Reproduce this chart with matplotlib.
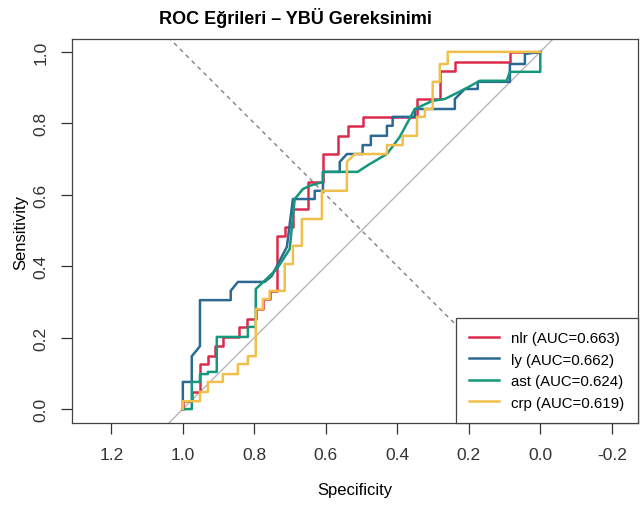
import matplotlib
matplotlib.use("Agg")
import matplotlib.pyplot as plt

plt.rcParams['font.family'] = ['Liberation Sans', 'DejaVu Sans']

# ROC koordinatları (specificity, sensitivity) - görselden okunan değerler
nlr_spec = [1.0, 1.0, 0.975, 0.975, 0.952, 0.952, 0.930, 0.930, 0.911, 0.911, 0.888, 0.888,
            0.843, 0.843, 0.821, 0.821, 0.796, 0.796, 0.776, 0.776, 0.757, 0.757, 0.737, 0.737,
            0.715, 0.715, 0.692, 0.692, 0.650, 0.650, 0.608, 0.608, 0.566, 0.566, 0.538, 0.538,
            0.497, 0.497, 0.345, 0.345, 0.281, 0.281, 0.239, 0.239, 0.085, 0.085, 0.0]
nlr_sens = [0.0, 0.022, 0.022, 0.048, 0.048, 0.126, 0.126, 0.148, 0.148, 0.176, 0.176, 0.202,
            0.202, 0.230, 0.230, 0.252, 0.252, 0.280, 0.280, 0.308, 0.308, 0.331, 0.331, 0.485,
            0.485, 0.510, 0.510, 0.560, 0.560, 0.636, 0.636, 0.714, 0.714, 0.765, 0.765, 0.793,
            0.793, 0.818, 0.818, 0.868, 0.868, 0.947, 0.947, 0.972, 0.972, 1.0, 1.0]

ly_spec = [1.0, 1.0, 0.975, 0.975, 0.952, 0.952, 0.866, 0.866, 0.846, 0.771, 0.751, 0.709,
           0.692, 0.631, 0.631, 0.608, 0.608, 0.561, 0.561, 0.541, 0.497, 0.497, 0.474, 0.474,
           0.429, 0.429, 0.413, 0.413, 0.351, 0.351, 0.239, 0.239, 0.211, 0.175, 0.175, 0.085,
           0.085, 0.043, 0.043, 0.0]
ly_sens = [0.0, 0.076, 0.076, 0.148, 0.176, 0.305, 0.305, 0.331, 0.356, 0.356, 0.373, 0.454,
           0.588, 0.588, 0.611, 0.611, 0.664, 0.664, 0.692, 0.714, 0.714, 0.739, 0.739, 0.765,
           0.765, 0.793, 0.793, 0.818, 0.818, 0.840, 0.840, 0.868, 0.896, 0.896, 0.916, 0.916,
           0.966, 0.966, 0.994, 1.0]

ast_spec = [1.0, 0.975, 0.975, 0.952, 0.952, 0.930, 0.930, 0.905, 0.905, 0.818, 0.818, 0.796,
            0.796, 0.737, 0.701, 0.687, 0.664, 0.645, 0.608, 0.608, 0.511, 0.477, 0.429, 0.393,
            0.351, 0.301, 0.267, 0.211, 0.169, 0.094, 0.085, 0.0, 0.0]
ast_sens = [0.0, 0.0, 0.076, 0.076, 0.098, 0.098, 0.104, 0.104, 0.202, 0.202, 0.230, 0.230,
            0.336, 0.392, 0.448, 0.588, 0.616, 0.625, 0.636, 0.664, 0.664, 0.686, 0.714, 0.762,
            0.840, 0.863, 0.868, 0.896, 0.919, 0.919, 0.944, 0.944, 1.0]

crp_spec = [1.0, 1.0, 0.952, 0.952, 0.930, 0.930, 0.888, 0.888, 0.846, 0.846, 0.818, 0.818,
            0.796, 0.796, 0.776, 0.776, 0.757, 0.757, 0.715, 0.715, 0.692, 0.692, 0.667, 0.667,
            0.611, 0.611, 0.541, 0.541, 0.519, 0.429, 0.429, 0.385, 0.385, 0.345, 0.345, 0.323,
            0.323, 0.301, 0.301, 0.281, 0.281, 0.259, 0.259, 0.0]
crp_sens = [0.0, 0.022, 0.022, 0.048, 0.048, 0.076, 0.076, 0.098, 0.098, 0.126, 0.126, 0.148,
            0.148, 0.280, 0.280, 0.308, 0.308, 0.331, 0.331, 0.406, 0.406, 0.457, 0.457, 0.532,
            0.532, 0.611, 0.611, 0.692, 0.714, 0.714, 0.739, 0.739, 0.765, 0.765, 0.818, 0.818,
            0.840, 0.840, 0.916, 0.916, 0.966, 0.966, 1.0, 1.0]

labels = ["nlr (AUC=0.663)", "ly (AUC=0.662)", "ast (AUC=0.624)", "crp (AUC=0.619)"]
colors = ["#DC2B4A", "#2D6A93", "#14977A", "#F0BF4C"]

x_ticks = [1.2, 1.0, 0.8, 0.6, 0.4, 0.2, 0.0, -0.2]
y_ticks = [0.0, 0.2, 0.4, 0.6, 0.8, 1.0]

fig = plt.figure(figsize=(6.43, 5.06), dpi=100)
ax = fig.add_axes([0.112, 0.162, 0.880, 0.759])

# referans çizgileri
ax.axline((1, 0), (0, 1), color="#b5b5b5", lw=1.0, zorder=1)
ax.axline((0, 0), (1, 1), color="#808080", lw=1.0, ls=(0, (3, 3)), zorder=1)

curves = [(nlr_spec, nlr_sens), (ly_spec, ly_sens), (ast_spec, ast_sens), (crp_spec, crp_sens)]
for (sp, se), lab, col in zip(curves, labels, colors):
    ax.plot(sp, se, color=col, lw=1.8, label=lab, zorder=2)

ax.set_xlim(1.310, -0.273)
ax.set_ylim(-0.039, 1.036)
ax.set_xticks(x_ticks)
ax.set_xticklabels([f"{v:.1f}" for v in x_ticks])
ax.set_yticks(y_ticks)
ax.set_yticklabels([f"{v:.1f}" for v in y_ticks], rotation=90, va="center")
ax.tick_params(direction="out", length=8, width=0.9, labelsize=12.5, colors="#333333", pad=9)
for s in ax.spines.values():
    s.set_color("#444444")
    s.set_linewidth(0.9)

ax.set_xlabel("Specificity", fontsize=12, labelpad=15)
ax.set_ylabel("Sensitivity", fontsize=12, labelpad=4)
fig.text(0.46, 0.965, "ROC Eğrileri – YBÜ Gereksinimi", ha="center", va="center",
         fontsize=13, fontweight="bold")

leg = ax.legend(loc="lower right", bbox_to_anchor=(1.0, 0.0), borderaxespad=0,
                fancybox=False, framealpha=1, edgecolor="#444444", fontsize=10.8,
                handlelength=2.0, handletextpad=0.8, labelspacing=0.5,
                borderpad=0.9)
leg.get_frame().set_linewidth(0.9)
leg.set_zorder(5)

fig.savefig("out.png", dpi=100)
